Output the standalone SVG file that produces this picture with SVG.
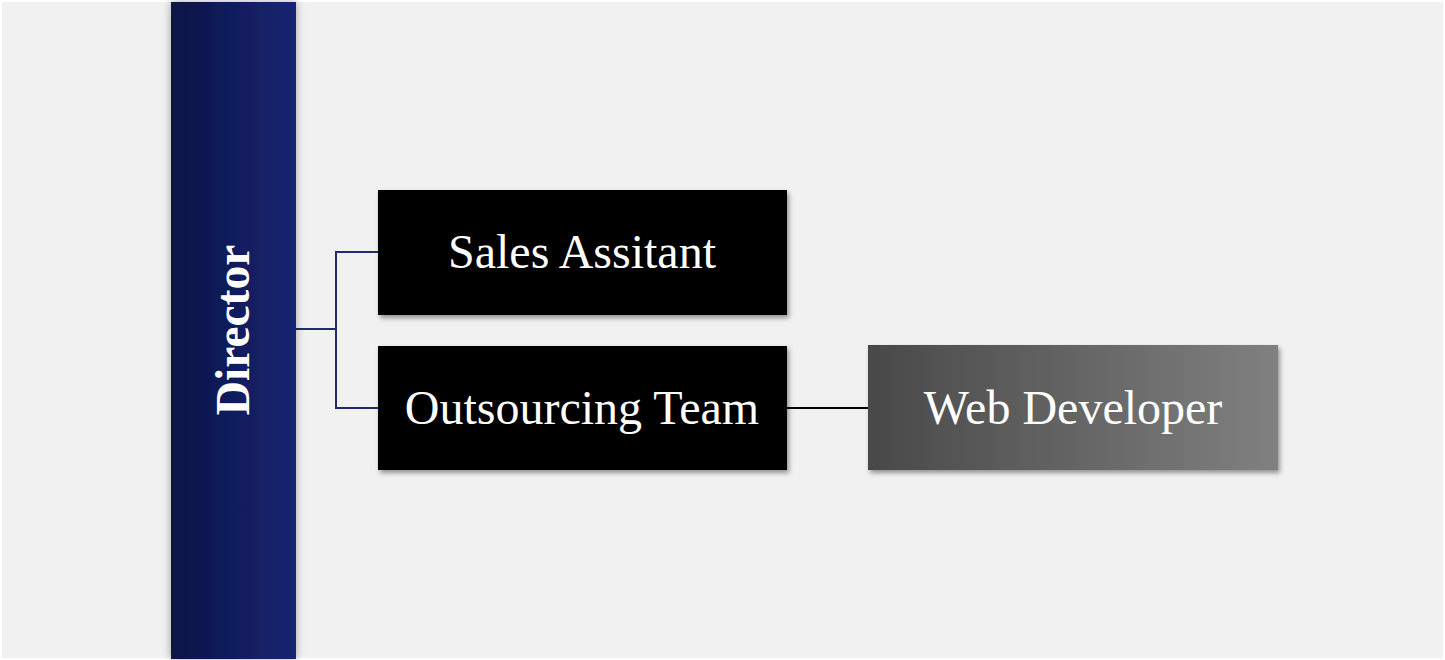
<svg xmlns="http://www.w3.org/2000/svg" width="1445" height="660" viewBox="0 0 1445 660">
  <defs>
    <linearGradient id="gDir" x1="0" y1="0" x2="1" y2="0">
      <stop offset="0" stop-color="#0b1446"/>
      <stop offset="1" stop-color="#172572"/>
    </linearGradient>
    <linearGradient id="gWeb" x1="0" y1="0" x2="1" y2="0">
      <stop offset="0" stop-color="#494949"/>
      <stop offset="1" stop-color="#808080"/>
    </linearGradient>
    <filter id="shBar" x="-20%" y="-5%" width="140%" height="110%">
      <feDropShadow dx="0" dy="0" stdDeviation="4" flood-color="#000" flood-opacity="0.35"/>
    </filter>
    <filter id="sh" x="-10%" y="-10%" width="120%" height="130%">
      <feDropShadow dx="2" dy="3" stdDeviation="2.5" flood-color="#000" flood-opacity="0.4"/>
    </filter>
    <style>
      .lbl { font-family: "Liberation Serif", "Times New Roman", serif; font-size: 48px; fill: #ffffff; text-anchor: middle; }
      .dir { font-weight: bold; font-size: 47.5px; }
      .conn { fill: none; stroke-width: 2; }
    </style>
  </defs>
  <rect x="0" y="0" width="1445" height="660" fill="#ffffff"/>
  <rect x="2" y="2" width="1441" height="656" fill="#f1f1f1"/>

  <g id="connectors">
    <polyline class="conn" stroke="#1f2c6e" points="296,329 336,329"/>
    <polyline class="conn" stroke="#1f2c6e" points="378,252 336,252 336,408 378,408"/>
    <line class="conn" stroke="#000000" x1="787" y1="408" x2="868" y2="408"/>
  </g>

  <g id="director">
    <rect x="171" y="2" width="125" height="657" fill="url(#gDir)" filter="url(#shBar)"/>
    <text class="lbl dir" transform="translate(249,330) rotate(-90)" x="0" y="0">Director</text>
  </g>

  <g id="sales-assitant">
    <rect x="378" y="190" width="409" height="125" fill="#000000" filter="url(#sh)"/>
    <text class="lbl" x="582" y="268">Sales Assitant</text>
  </g>

  <g id="outsourcing-team">
    <rect x="378" y="346" width="409" height="124" fill="#000000" filter="url(#sh)"/>
    <text class="lbl" x="582" y="424">Outsourcing Team</text>
  </g>

  <g id="web-developer">
    <rect x="868" y="345" width="410" height="125" fill="url(#gWeb)" filter="url(#sh)"/>
    <text class="lbl" x="1073" y="424">Web Developer</text>
  </g>
</svg>
